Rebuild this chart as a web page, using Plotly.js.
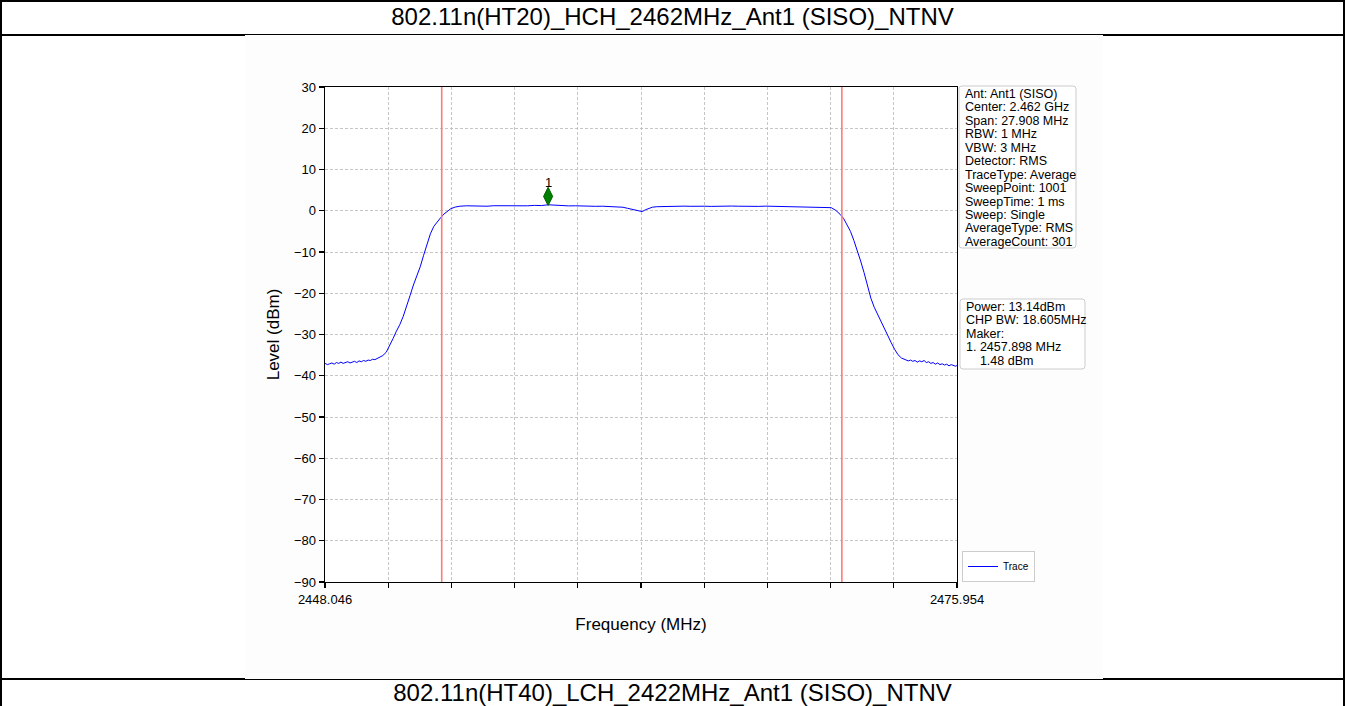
<!DOCTYPE html>
<html>
<head>
<meta charset="utf-8">
<script src="https://cdn.plot.ly/plotly-3.0.1.min.js"></script>
<style>
html,body{margin:0;padding:0;background:#fff;width:1345px;height:706px;overflow:hidden;font-family:"Liberation Sans",Arial,sans-serif;}
.hline{position:absolute;left:0;width:1345px;height:2px;background:#000;}
.vline{position:absolute;top:0;width:2px;height:706px;background:#000;}
.cap{position:absolute;left:0;width:1345px;text-align:center;font-size:24px;line-height:26px;color:#000;}
#chart{position:absolute;left:245px;top:35px;width:858px;height:644px;}
</style>
</head>
<body>
<div class="hline" style="top:0"></div>
<div class="hline" style="top:34px"></div>
<div class="hline" style="top:678px"></div>
<div class="vline" style="left:0"></div>
<div class="vline" style="left:1343px"></div>
<div class="cap" id="capTop" style="top:4px"></div>
<div class="cap" id="capBottom" style="top:680px"></div>
<div id="chart"></div>
<script>
// ---------------- data ----------------
const sectionTitles = ["802.11n(HT20)_HCH_2462MHz_Ant1 (SISO)_NTNV", "802.11n(HT40)_LCH_2422MHz_Ant1 (SISO)_NTNV"];
const freqStart = 2448.046;
const freqStop = 2475.954;
const freqMHz = [
 2448.05,2448.15,2448.25,2448.35,2448.45,2448.55,2448.65,2448.75,2448.85,2448.95,
 2449.05,2449.15,2449.25,2449.35,2449.45,2449.55,2449.65,2449.75,2449.85,2449.95,
 2450.05,2450.15,2450.25,2450.35,2450.45,
 2450.60,2450.75,2450.90,2451.05,2451.20,2451.35,2451.50,2451.65,2451.80,2451.95,
 2452.10,2452.25,2452.40,2452.55,2452.70,2452.85,2453.00,2453.15,2453.30,2453.45,
 2453.60,2453.80,2454.00,2454.30,2454.60,2454.90,2455.20,2455.50,2455.80,2456.10,
 2456.40,2456.70,2457.00,2457.30,2457.60,2457.90,2458.20,2458.50,2458.80,2459.10,
 2459.40,2459.70,2460.00,2460.30,2460.60,2460.90,2461.20,2461.40,2461.60,2461.80,
 2461.95,2462.05,2462.20,2462.35,2462.50,2462.70,2463.00,2463.30,2463.60,2463.90,
 2464.20,2464.50,2464.80,2465.10,2465.40,2465.70,2466.00,2466.30,2466.60,2466.90,
 2467.20,2467.50,2467.80,2468.10,2468.40,2468.70,2469.00,2469.30,2469.60,2469.90,
 2470.20,2470.40,2470.60,2470.80,2470.95,2471.10,2471.25,2471.40,2471.55,2471.70,
 2471.85,2472.00,2472.15,2472.30,2472.45,2472.60,2472.75,2472.90,2473.05,2473.20,
 2473.35,2473.50,2473.65,
 2473.80,2473.90,2474.00,2474.10,2474.20,2474.30,2474.40,2474.50,2474.60,2474.70,
 2474.80,2474.90,2475.00,2475.10,2475.20,2475.30,2475.40,2475.50,2475.60,2475.70,
 2475.80,2475.90,2475.95
];
const levelDbm = [
 -37.0,-37.3,-37.1,-36.9,-37.2,-36.8,-37.0,-36.7,-37.0,-36.8,
 -36.6,-36.9,-36.7,-36.5,-36.8,-36.4,-36.6,-36.3,-36.5,-36.2,
 -36.3,-36.0,-36.1,-35.8,-35.6,
 -35.1,-34.3,-32.8,-31.0,-29.2,-27.6,-25.6,-23.3,-20.6,-18.0,
 -15.8,-13.6,-10.8,-8.0,-5.6,-3.8,-2.6,-1.7,-0.8,-0.1,
 0.5,0.9,1.1,1.2,1.15,1.25,1.10,1.22,1.18,1.28,
 1.15,1.24,1.20,1.30,1.25,1.45,1.30,1.22,1.18,1.20,
 1.12,1.15,1.08,1.10,1.02,0.95,0.85,0.60,0.35,0.08,
 -0.22,-0.20,0.25,0.60,0.85,0.98,1.05,1.10,1.05,1.12,
 1.08,1.15,1.10,1.06,1.12,1.08,1.14,1.10,1.05,1.10,
 1.06,1.12,1.08,1.04,1.10,1.06,1.02,1.05,1.00,0.95,
 0.90,0.75,0.10,-0.90,-1.90,-3.30,-5.00,-7.20,-9.60,-12.20,
 -15.00,-18.20,-21.20,-23.40,-25.20,-27.00,-28.60,-30.20,-32.00,-33.60,
 -34.90,-35.70,-36.10,
 -36.4,-36.2,-36.5,-36.3,-36.7,-36.4,-36.6,-36.3,-36.8,-36.6,
 -37.0,-36.8,-37.2,-36.9,-37.3,-37.1,-37.4,-37.2,-37.6,-37.3,
 -37.5,-37.7,-37.5
];
const boundaryFreqs = [2453.20, 2470.87];
const markerFreq = 2457.898;
const markerLevel = 1.48;
const markerLabel = "1";
const yTickVals = [-90,-80,-70,-60,-50,-40,-30,-20,-10,0,10,20,30];
const xTickLabels = ["2448.046","","","","","","","","","","2475.954"];
const infoLines = ["Ant: Ant1 (SISO)","Center: 2.462 GHz","Span: 27.908 MHz","RBW: 1 MHz","VBW: 3 MHz","Detector: RMS","TraceType: Average","SweepPoint: 1001","SweepTime: 1 ms","Sweep: Single","AverageType: RMS","AverageCount: 301"];
const resultLines = ["Power: 13.14dBm","CHP BW: 18.605MHz","Maker:","1. " + markerFreq.toFixed(3) + " MHz","\u00a0\u00a0\u00a0\u00a0" + markerLevel.toFixed(2) + " dBm"];

// ---------------- layout helpers ----------------
document.getElementById('capTop').textContent = sectionTitles[0];
document.getElementById('capBottom').textContent = sectionTitles[1];

const W = 858, H = 644, ML = 80, MR = 146, MT = 52, MB = 97;
const PW = W - ML - MR, PH = H - MT - MB;
const px2x = px => (px - ML) / PW;
const py2y = py => 1 - (py - MT) / PH;

function roundRectPath(x0, y0, x1, y1, r) {
  const P = (x, y) => px2x(x).toFixed(5) + ',' + py2y(y).toFixed(5);
  return 'M' + P(x0 + r, y0) + ' L' + P(x1 - r, y0) + ' Q' + P(x1, y0) + ' ' + P(x1, y0 + r) +
         ' L' + P(x1, y1 - r) + ' Q' + P(x1, y1) + ' ' + P(x1 - r, y1) +
         ' L' + P(x0 + r, y1) + ' Q' + P(x0, y1) + ' ' + P(x0, y1 - r) +
         ' L' + P(x0, y0 + r) + ' Q' + P(x0, y0) + ' ' + P(x0 + r, y0) + ' Z';
}

const span = freqStop - freqStart;
const xTickVals = xTickLabels.map((_, i) => freqStart + span * i / (xTickLabels.length - 1));

const font = "Liberation Sans, Arial, sans-serif";
const annotations = [];
const boxFont = {family: font, size: 12.5, color: '#000'};
infoLines.forEach((t, i) => annotations.push({
  xref: 'paper', yref: 'paper', x: px2x(717.5), y: py2y(59 + 13.45 * i),
  xanchor: 'left', yanchor: 'middle', text: t, showarrow: false, font: boxFont
}));
resultLines.forEach((t, i) => annotations.push({
  xref: 'paper', yref: 'paper', x: px2x(718.5), y: py2y(272 + 13.4 * i),
  xanchor: 'left', yanchor: 'middle', text: t, showarrow: false, font: boxFont
}));
annotations.push({
  x: markerFreq, y: markerLevel, xref: 'x', yref: 'y', text: markerLabel,
  showarrow: false, yshift: 22, font: {family: font, size: 13, color: '#000'}
});

const shapes = [];
boundaryFreqs.forEach(f => shapes.push({
  type: 'line', xref: 'x', yref: 'paper', x0: f, x1: f, y0: 0, y1: 1,
  line: {color: '#ff7b7b', width: 1.6}, layer: 'above'
}));
shapes.push({type: 'path', xref: 'paper', yref: 'paper', path: roundRectPath(714, 51, 831, 213, 3),
  line: {color: '#cccccc', width: 1}, fillcolor: 'rgba(255,255,255,0.85)', layer: 'above'});
shapes.push({type: 'path', xref: 'paper', yref: 'paper', path: roundRectPath(715, 264, 840, 334, 3),
  line: {color: '#cccccc', width: 1}, fillcolor: 'rgba(255,255,255,0.85)', layer: 'above'});

const traces = [
  {x: freqMHz, y: levelDbm, type: 'scatter', mode: 'lines', name: 'Trace',
   line: {color: '#0000ff', width: 1}},
  {x: [markerFreq], y: [markerLevel + 2], type: 'scatter', mode: 'markers', showlegend: false,
   marker: {symbol: 'diamond-tall', size: 13, color: '#008000', line: {color: '#006000', width: 1}}}
];

const axisCommon = {
  showgrid: true, gridcolor: '#b8b8b8', gridwidth: 0.8, griddash: '3px,2px',
  showline: true, linecolor: '#000', linewidth: 1.4, mirror: true,
  ticks: 'outside', ticklen: 5, tickwidth: 1.2, tickcolor: '#000',
  tickfont: {family: font, size: 13, color: '#000'}, zeroline: false, automargin: false
};

const layout = {
  width: W, height: H,
  margin: {l: ML, r: MR, t: MT, b: MB, pad: 0},
  paper_bgcolor: '#fdfdfd', plot_bgcolor: '#ffffff',
  font: {family: font, color: '#000'},
  showlegend: true,
  legend: {x: px2x(717), y: 0, xanchor: 'left', yanchor: 'bottom',
           bgcolor: 'rgba(255,255,255,0.85)', bordercolor: '#cccccc', borderwidth: 1,
           font: {family: font, size: 10, color: '#000'}},
  xaxis: Object.assign({}, axisCommon, {
    range: [freqStart, freqStop], tickmode: 'array', tickvals: xTickVals, ticktext: xTickLabels,
    title: {text: 'Frequency (MHz)', font: {family: font, size: 17, color: '#000'}, standoff: 12}
  }),
  yaxis: Object.assign({}, axisCommon, {
    range: [-90, 30], tickmode: 'array', tickvals: yTickVals,
    title: {text: 'Level (dBm)', font: {family: font, size: 17, color: '#000'}, standoff: 10}
  }),
  shapes: shapes,
  annotations: annotations
};

Plotly.newPlot('chart', traces, layout, {displayModeBar: false, staticPlot: true});
</script>
</body>
</html>
